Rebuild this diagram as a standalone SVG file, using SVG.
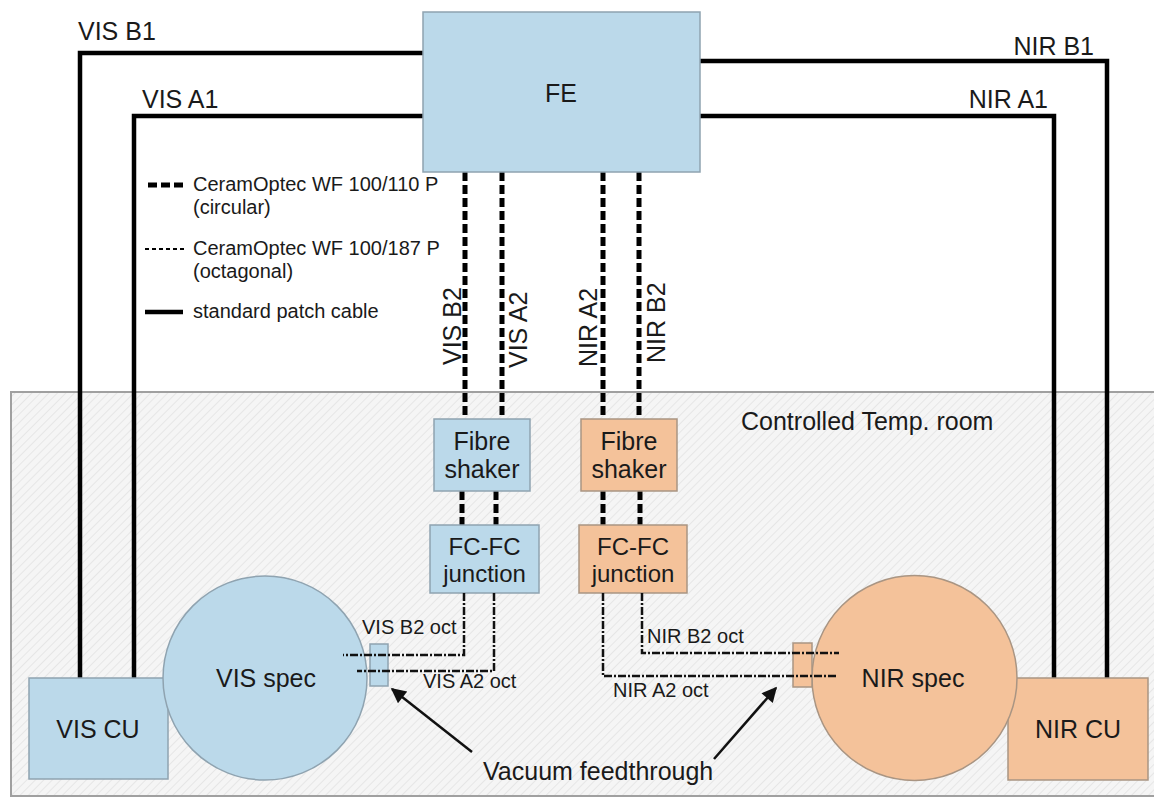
<svg xmlns="http://www.w3.org/2000/svg" width="1154" height="798" viewBox="0 0 1154 798">
<style>
text{font-family:"Liberation Sans",Arial,sans-serif;fill:#1a1a1a}
.t25{font-size:25px}
.t24{font-size:24px}
.t20{font-size:20px}
.t19{font-size:19px}
.blue{fill:#bbd9ea;stroke:#8fa3b0;stroke-width:1.5}
.orange{fill:#f4c29a;stroke:#a99583;stroke-width:1.5}
.solid{fill:none;stroke:#000;stroke-width:4.5;stroke-linejoin:miter}
.dash{fill:none;stroke:#000;stroke-width:5;stroke-dasharray:9 4}
.thin{fill:none;stroke:#000;stroke-width:2;stroke-dasharray:4 3}
.dd{fill:none;stroke:#111;stroke-width:2.5;stroke-dasharray:8 2 2 2}
.arr{fill:none;stroke:#111;stroke-width:2.5;marker-end:url(#ah)}
</style>
<defs>
<pattern id="hatch" width="6" height="6" patternUnits="userSpaceOnUse" patternTransform="rotate(45)">
<rect width="6" height="6" fill="#f5f5f5"/>
<line x1="0" y1="0" x2="0" y2="6" stroke="#e2e2e2" stroke-width="1.5"/>
</pattern>
<marker id="ah" viewBox="0 0 10 10" refX="9" refY="5" markerWidth="7" markerHeight="6" markerUnits="strokeWidth" orient="auto">
<path d="M0,0 L10,5 L0,10 z" fill="#111"/>
</marker>
</defs>
<rect width="1154" height="798" fill="#fff"/>
<g id="room">
<rect x="11" y="392" width="1145" height="404" fill="url(#hatch)" stroke="#a0a0a0" stroke-width="2"/>
<text class="t25" x="741" y="430">Controlled Temp. room</text>
</g>
<g id="legend">
<line class="dash" x1="148" y1="185" x2="184" y2="185"/>
<text class="t20" x="193" y="191">CeramOptec WF 100/110 P</text>
<text class="t20" x="193" y="214">(circular)</text>
<line class="thin" x1="145" y1="249" x2="184" y2="249"/>
<text class="t20" x="193" y="255">CeramOptec WF 100/187 P</text>
<text class="t20" x="193" y="278">(octagonal)</text>
<line class="solid" x1="145" y1="312" x2="183" y2="312" stroke-width="5"/>
<text class="t20" x="193" y="318">standard patch cable</text>
</g>
<g id="connectors">
<path class="solid" d="M424,53 H80 V680"/>
<path class="solid" d="M424,116 H134 V680"/>
<path class="solid" d="M699,61 H1107 V680"/>
<path class="solid" d="M699,116 H1054 V680"/>
<line class="dash" x1="465" y1="172" x2="465" y2="419"/>
<line class="dash" x1="502" y1="172" x2="502" y2="419"/>
<line class="dash" x1="603" y1="172" x2="603" y2="419"/>
<line class="dash" x1="639" y1="172" x2="639" y2="419"/>
<line class="dash" x1="462" y1="491" x2="462" y2="525"/>
<line class="dash" x1="496" y1="491" x2="496" y2="525"/>
<line class="dash" x1="603" y1="491" x2="603" y2="525"/>
<line class="dash" x1="640" y1="491" x2="640" y2="525"/>
</g>
<g id="fe">
<rect class="blue" x="423" y="12" width="277" height="160"/>
<text class="t25" x="561" y="102" text-anchor="middle">FE</text>
</g>
<g id="cable-labels">
<text class="t25" x="78" y="40">VIS B1</text>
<text class="t25" x="142" y="108">VIS A1</text>
<text class="t25" x="1094" y="55" text-anchor="end">NIR B1</text>
<text class="t25" x="1048" y="108" text-anchor="end">NIR A1</text>
<text class="t25" transform="translate(461,365) rotate(-90)">VIS B2</text>
<text class="t25" transform="translate(527,368) rotate(-90)">VIS A2</text>
<text class="t25" transform="translate(597,367) rotate(-90)">NIR A2</text>
<text class="t25" transform="translate(665,363) rotate(-90)">NIR B2</text>
</g>
<g id="vis-shaker">
<rect class="blue" x="434" y="419" width="96" height="72"/>
<text class="t25" x="482" y="450" text-anchor="middle">Fibre</text>
<text class="t25" x="482" y="478" text-anchor="middle">shaker</text>
</g>
<g id="nir-shaker">
<rect class="orange" x="581" y="419" width="96" height="72"/>
<text class="t25" x="629" y="450" text-anchor="middle">Fibre</text>
<text class="t25" x="629" y="478" text-anchor="middle">shaker</text>
</g>
<g id="vis-junction">
<rect class="blue" x="430" y="525" width="109" height="68"/>
<text class="t24" x="484.5" y="555" text-anchor="middle">FC-FC</text>
<text class="t24" x="484.5" y="582" text-anchor="middle">junction</text>
</g>
<g id="nir-junction">
<rect class="orange" x="579" y="525" width="108" height="68"/>
<text class="t24" x="633" y="555" text-anchor="middle">FC-FC</text>
<text class="t24" x="633" y="582" text-anchor="middle">junction</text>
</g>
<g id="vis-cu">
<rect class="blue" x="29" y="678" width="139" height="101"/>
<text class="t25" x="98" y="738" text-anchor="middle">VIS CU</text>
</g>
<g id="nir-cu">
<rect class="orange" x="1008" y="678" width="140" height="102"/>
<text class="t25" x="1078" y="738" text-anchor="middle">NIR CU</text>
</g>
<g id="vis-spec">
<circle class="blue" cx="265" cy="678" r="102"/>
<text class="t25" x="266" y="687" text-anchor="middle">VIS spec</text>
</g>
<g id="nir-spec">
<circle class="orange" cx="914.5" cy="678" r="102.5"/>
<text class="t25" x="913" y="687" text-anchor="middle">NIR spec</text>
</g>
<g id="vis-feedthrough">
<rect class="blue" x="370" y="644" width="18" height="42"/>
</g>
<g id="nir-feedthrough">
<rect class="orange" x="793" y="643" width="19" height="44"/>
</g>
<g id="oct-connectors">
<path class="dd" d="M464,593 V655 H343"/>
<path class="dd" d="M494,593 V671 H357"/>
<path class="dd" d="M642,593 V653 H839"/>
<path class="dd" d="M603,593 V676 H837"/>
<text class="t20" x="362" y="634">VIS B2 oct</text>
<text class="t20" x="423" y="688">VIS A2 oct</text>
<text class="t20" x="647" y="643">NIR B2 oct</text>
<text class="t20" x="613" y="697">NIR A2 oct</text>
</g>
<g id="vacuum-label">
<line class="arr" x1="472" y1="752" x2="392" y2="689"/>
<line class="arr" x1="714" y1="759" x2="776" y2="688"/>
<text class="t25" x="483" y="780">Vacuum feedthrough</text>
</g>
</svg>
